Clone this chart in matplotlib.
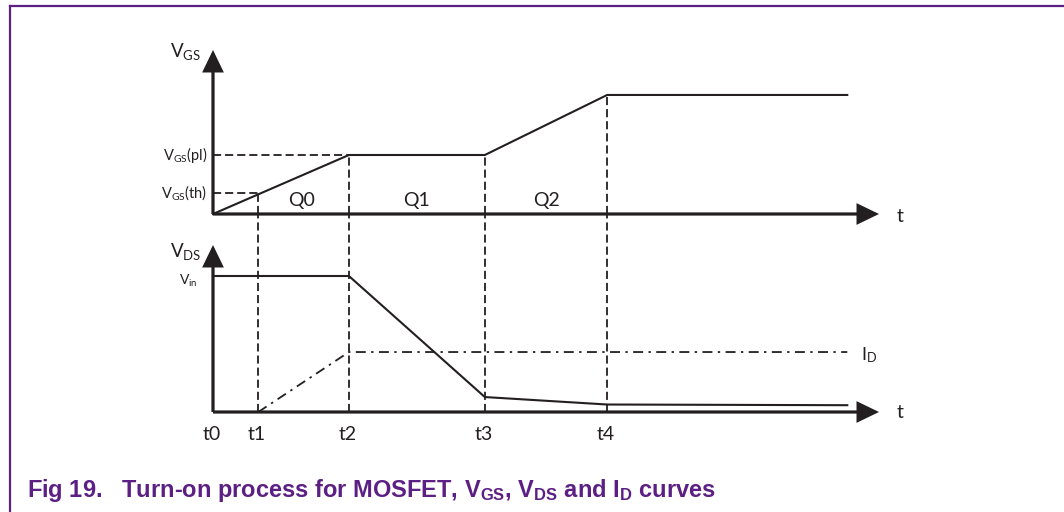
import matplotlib
matplotlib.use("Agg")
import matplotlib.pyplot as plt
from matplotlib.lines import Line2D

# ---------------- data ----------------
time_labels = ["t0", "t1", "t2", "t3", "t4"]
times = [0.0, 1.0, 3.0, 6.0, 8.7]
t_end = 14.0
t_axis_max = 14.7

# gate-source voltage (arbitrary units)
vgs_th = 1.42
vgs_pl = 4.0
vgs_max = 8.07
vgs_t = [0.0, 3.0, 6.0, 8.7, 14.0]
vgs_v = [0.0, vgs_pl, vgs_pl, vgs_max, vgs_max]

# drain-source voltage and drain current
v_in = 10.0
i_d = 4.41
vds_t = [0.0, 3.0, 6.0, 8.7, 14.0]
vds_v = [v_in, v_in, 1.1, 0.55, 0.5]
id_t = [1.0, 3.0, 14.0]
id_v = [0.0, i_d, i_d]

charge_labels = ["Q0", "Q1", "Q2"]
charge_pos = [1.95, 4.5, 7.35]

# ---------------- styling ----------------
W, H = 1064, 512
INK = "#231F20"
PURPLE = "#5C1F83"
FONT = ["Lato", "DejaVu Sans"]
plt.rcParams["font.family"] = FONT

fig = plt.figure(figsize=(W / 100, H / 100), dpi=100)
fig.patch.set_facecolor("white")

def fx(px):
    return px / W

def fy(py):
    return 1 - py / H

# frame (top and left purple rule)
fig.add_artist(Line2D([fx(10), fx(W)], [fy(6), fy(6)], color=PURPLE, lw=1.6))
fig.add_artist(Line2D([fx(10), fx(10)], [fy(6), fy(H)], color=PURPLE, lw=1.6))

x0_px, x1_px = 213, 879
# top axes: y=0 at 214px, ylim top at 50px
ax1 = fig.add_axes([fx(x0_px), fy(214), fx(x1_px - x0_px), (214 - 50) / H])
ax1.set_xlim(0, t_axis_max)
ax1.set_ylim(0, (214 - 50) / 14.75)
# bottom axes: y=0 at 412px, ylim top at 214px
ax2 = fig.add_axes([fx(x0_px), fy(412), fx(x1_px - x0_px), (412 - 214) / H])
ax2.set_xlim(0, t_axis_max)
ax2.set_ylim(0, (412 - 214) / 13.6)
for ax in (ax1, ax2):
    ax.set_axis_off()
    ax.patch.set_alpha(0)

AX_LW = 2.3
CURVE_LW = 1.5
DASH_LW = 1.3
DASH = (0, (4.5, 2.2))
DASHDOT = (0, (5.5, 3, 1.3, 3))

def arrow(ax, start, end):
    ax.annotate("", xy=end, xytext=start, annotation_clip=False,
                arrowprops=dict(arrowstyle="-|>,head_length=0.62,head_width=0.3",
                                mutation_scale=20, lw=AX_LW, color=INK,
                                shrinkA=0, shrinkB=0, joinstyle="miter",
                                capstyle="butt"))

# ---- top panel ----
y1top = ax1.get_ylim()[1]
arrow(ax1, (0, 0), (0, y1top))
arrow(ax1, (0, 0), (t_axis_max, 0))
ax1.plot(vgs_t, vgs_v, color=INK, lw=CURVE_LW, solid_joinstyle="miter", clip_on=False)
ax1.plot([0, times[1]], [vgs_th, vgs_th], color=INK, lw=DASH_LW, ls=DASH, clip_on=False)
ax1.plot([0, times[2]], [vgs_pl, vgs_pl], color=INK, lw=DASH_LW, ls=DASH, clip_on=False)
ax1.plot([times[1]] * 2, [0, vgs_th], color=INK, lw=DASH_LW, ls=DASH, clip_on=False)
ax1.plot([times[2]] * 2, [0, vgs_pl], color=INK, lw=DASH_LW, ls=DASH, clip_on=False)
ax1.plot([times[3]] * 2, [0, vgs_pl], color=INK, lw=DASH_LW, ls=DASH, clip_on=False)
ax1.plot([times[4]] * 2, [0, vgs_max], color=INK, lw=DASH_LW, ls=DASH, clip_on=False)

for lab, xp in zip(charge_labels, charge_pos):
    ax1.text(xp, 0.9, lab, ha="center", va="center", fontsize=14, color=INK)

# ---- bottom panel ----
y2top = ax2.get_ylim()[1]
arrow(ax2, (0, 0), (0, (412 - 245) / 13.6))
arrow(ax2, (0, 0), (t_axis_max, 0))
ax2.plot(vds_t, vds_v, color=INK, lw=CURVE_LW, solid_joinstyle="miter", clip_on=False)
ax2.plot(id_t, id_v, color=INK, lw=DASH_LW, ls=DASHDOT, clip_on=False)
for t in times[1:]:
    ax2.plot([t, t], [0, y2top], color=INK, lw=DASH_LW, ls=DASH, clip_on=False)

for lab, t in zip(time_labels, times):
    ax2.text(t - 0.03, -23 / 13.6, lab, ha="center", va="center", fontsize=14, color=INK)

# ---- axis / level labels ----
def label(px, py, s, size, ha="right"):
    fig.text(fx(px), fy(py), s, ha=ha, va="center", fontsize=size, color=INK)

label(201, 52, r"$\mathregular{V_{GS}}$", 13.5)
label(201, 252, r"$\mathregular{V_{DS}}$", 13.5)
label(207, 155, r"$\mathregular{V_{GS}(pl)}$", 10.5)
label(207, 193, r"$\mathregular{V_{GS}(th)}$", 10.5)
label(198, 281, r"$\mathregular{V_{in}}$", 10)
label(861, 355, r"$\mathregular{I_{D}}$", 13, ha="left")
label(897, 217, "t", 14, ha="left")
label(897, 413, "t", 14, ha="left")

# ---- caption ----
fig.text(fx(27), fy(497),
         r"Fig 19.   Turn-on process for MOSFET, $\mathregular{V_{GS}}$, "
         r"$\mathregular{V_{DS}}$ and $\mathregular{I_{D}}$ curves",
         ha="left", va="baseline", fontsize=17, fontweight="bold",
         color=PURPLE, family=["Liberation Sans", "DejaVu Sans"])

fig.savefig("out.png", dpi=100, facecolor="white")
